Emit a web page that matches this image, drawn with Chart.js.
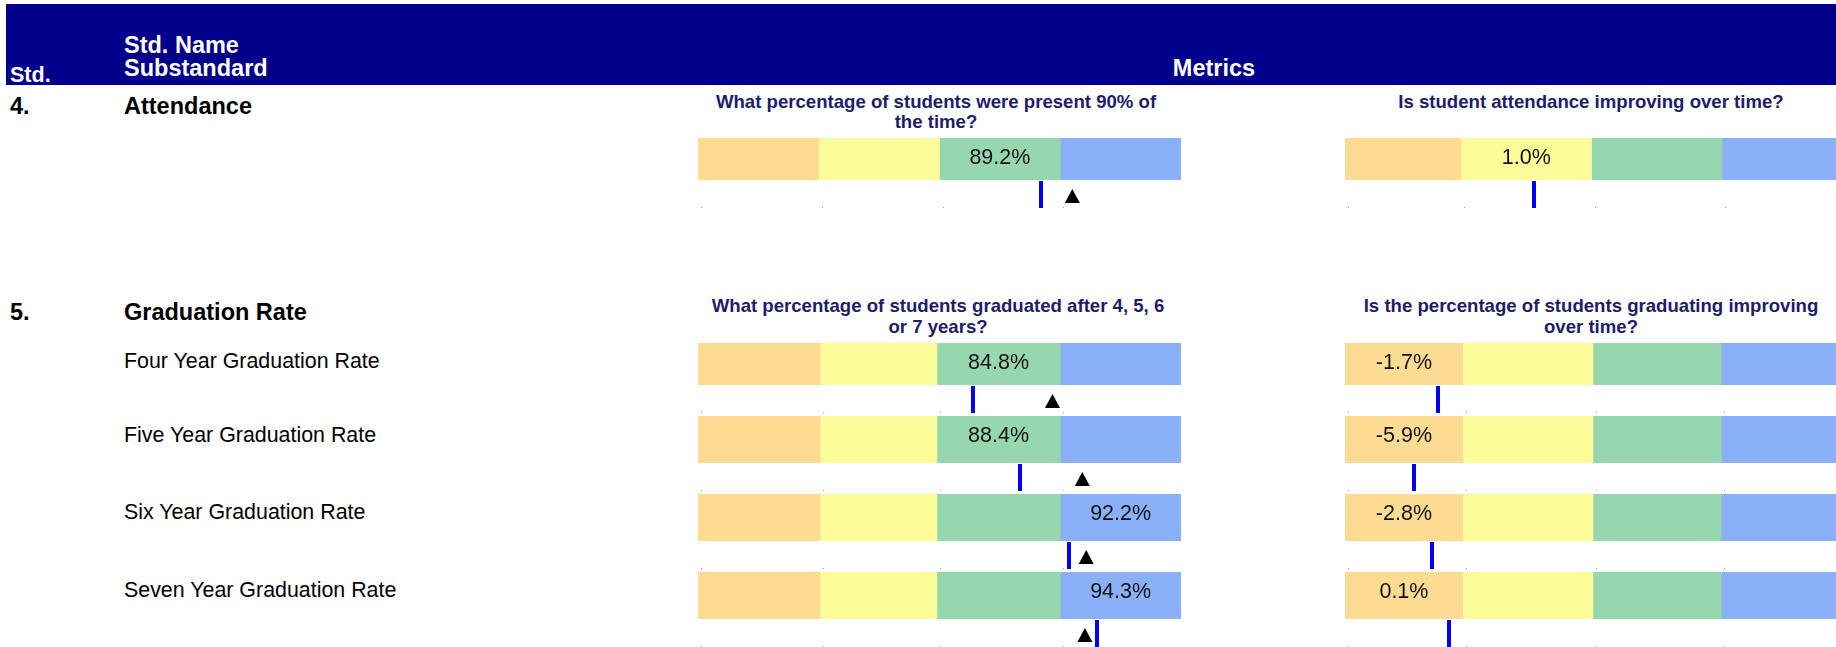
<!DOCTYPE html>
<html>
<head>
<meta charset="utf-8">
<script src="https://cdn.jsdelivr.net/npm/chart.js@4.4.1/dist/chart.umd.min.js"></script>
<style>
  html, body { margin: 0; padding: 0; background: #fff; width: 1836px; height: 647px; overflow: hidden; }
  body { position: relative; font-family: "Liberation Sans", Arial, sans-serif; }
  .t { position: absolute; white-space: nowrap; }
  .hdr { position: absolute; left: 6px; top: 4px; width: 1830px; height: 81px; background: #00008b; }
  .big { font-weight: bold; font-size: 23.5px; line-height: 24px; }
  .sub { font-size: 21.4px; line-height: 24px; color: #000; }
  .q { font-weight: bold; font-size: 18.6px; line-height: 20px; color: #1d1d6b; text-align: center; width: 600px; }
  .w { color: #fff; }
  canvas { position: absolute; }
</style>
</head>
<body>
<div class="hdr"></div>
<div class="t big w" style="left:10px;top:63px;font-size:21.5px">Std.</div>
<div class="t big w" style="left:124px;top:33px">Std. Name</div>
<div class="t big w" style="left:124px;top:56px">Substandard</div>
<div class="t big w" style="left:1114px;top:56px;width:200px;text-align:center">Metrics</div>

<div class="t big" style="left:10px;top:94px">4.</div>
<div class="t big" style="left:124px;top:94px">Attendance</div>
<div class="t big" style="left:10px;top:300px">5.</div>
<div class="t big" style="left:124px;top:300px">Graduation Rate</div>

<div id="rows"></div>

<div class="t q" style="left:636px;top:92px">What percentage of students were present 90% of<br>the time?</div>
<div class="t q" style="left:1291px;top:92px">Is student attendance improving over time?</div>
<div class="t q" style="left:638px;top:296px;line-height:20.5px">What percentage of students graduated after 4, 5, 6<br>or 7 years?</div>
<div class="t q" style="left:1291px;top:296px;line-height:20.5px">Is the percentage of students graduating improving<br>over time?</div>

<script>
// values
const gradRows = ['Four Year Graduation Rate', 'Five Year Graduation Rate', 'Six Year Graduation Rate', 'Seven Year Graduation Rate'];

const attendPct = [89.2];
const attendTarget = [90.5];
const attendChange = [1.0];

const gradPct = [84.8, 88.4, 92.2, 94.3];
const gradTarget = [90.9, 93.2, 93.5, 93.4];
const gradChange = [-1.7, -5.9, -2.8, 0.1];

// band thresholds (left edge of each band + right end)
const attendPctBands = [75, 80, 85, 90, 95];
const attendChangeBands = [-1.6, 0, 1.8, 3.6, 5.2];
const gradPctBands = [63.6, 73.0, 82.0, 91.5, 100.8];
const gradChangeBands = [-17.7, 2.5, 24.8, 46.8, 66.8];

const bandColors = ['#fcdb93', '#fcfc9b', '#96d7b0', '#8ab0f8'];

// page layout
const leftCol = { x: 698, w: 483 };
const rightCol = { x: 1345, w: 493 };
const attendRow = { top: 138, h: 42 };
const gradLayout = [
  { top: 343, h: 42, labelTop: 349 },
  { top: 416, h: 47, labelTop: 422.5 },
  { top: 494, h: 47, labelTop: 500 },
  { top: 572, h: 47, labelTop: 577.5 }
];
const markArea = 30;

// draws the blue marker, the black triangle and the value text
const marksPlugin = {
  id: 'marks',
  afterDatasetsDraw(chart, args, o) {
    const ctx = chart.ctx;
    const x = chart.scales.x;
    const a = chart.chartArea;
    const bands = o.bands;
    ctx.save();

    // little grey dots under each band
    ctx.fillStyle = '#9a9a9a';
    for (let i = 0; i < 4; i++) {
      ctx.fillRect(Math.round(x.getPixelForValue(bands[i])) + 3, a.bottom + 27, 1, 1);
    }

    const vx = Math.round(x.getPixelForValue(o.value));
    ctx.fillStyle = '#0000ff';
    ctx.fillRect(vx - 2, a.bottom + 1, 4, 27);

    if (o.target != null) {
      const tx = x.getPixelForValue(o.target);
      ctx.fillStyle = '#000';
      ctx.beginPath();
      ctx.moveTo(tx - 7.5, a.bottom + 23);
      ctx.lineTo(tx + 7.5, a.bottom + 23);
      ctx.lineTo(tx, a.bottom + 9);
      ctx.closePath();
      ctx.fill();
    }

    let band = 0;
    while (band < 3 && o.value >= bands[band + 1]) band++;
    const cx = (x.getPixelForValue(bands[band]) + x.getPixelForValue(bands[band + 1])) / 2;
    ctx.fillStyle = '#111';
    ctx.font = '21.5px "Liberation Sans", Arial, sans-serif';
    ctx.textAlign = 'center';
    ctx.textBaseline = 'alphabetic';
    ctx.fillText(o.value.toFixed(1) + '%', cx, a.top + 25.5);
    ctx.restore();
  }
};

function bandChart(col, row, bands, value, target) {
  const c = document.createElement('canvas');
  c.width = col.w;
  c.height = row.h + markArea;
  c.style.left = col.x + 'px';
  c.style.top = row.top + 'px';
  document.body.appendChild(c);

  const datasets = [];
  for (let i = 0; i < 4; i++) {
    datasets.push({
      data: [[bands[i], bands[i + 1]]],
      backgroundColor: bandColors[i],
      borderWidth: 0,
      barPercentage: 1,
      categoryPercentage: 1,
      grouped: false
    });
  }

  return new Chart(c, {
    type: 'bar',
    data: { labels: [''], datasets: datasets },
    options: {
      indexAxis: 'y',
      responsive: false,
      animation: false,
      devicePixelRatio: 1,
      layout: { padding: { left: 0, right: 0, top: 0, bottom: markArea } },
      plugins: {
        legend: { display: false },
        tooltip: { enabled: false },
        marks: { bands: bands, value: value, target: target }
      },
      scales: {
        x: { type: 'linear', min: bands[0], max: bands[4], display: false },
        y: { display: false }
      }
    },
    plugins: [marksPlugin]
  });
}

bandChart(leftCol, attendRow, attendPctBands, attendPct[0], attendTarget[0]);
bandChart(rightCol, attendRow, attendChangeBands, attendChange[0], null);

const rowsDiv = document.getElementById('rows');
gradRows.forEach(function (name, i) {
  const lay = gradLayout[i];
  const d = document.createElement('div');
  d.className = 't sub';
  d.style.left = '124px';
  d.style.top = lay.labelTop + 'px';
  d.textContent = name;
  rowsDiv.appendChild(d);
  bandChart(leftCol, lay, gradPctBands, gradPct[i], gradTarget[i]);
  bandChart(rightCol, lay, gradChangeBands, gradChange[i], null);
});
</script>
</body>
</html>
